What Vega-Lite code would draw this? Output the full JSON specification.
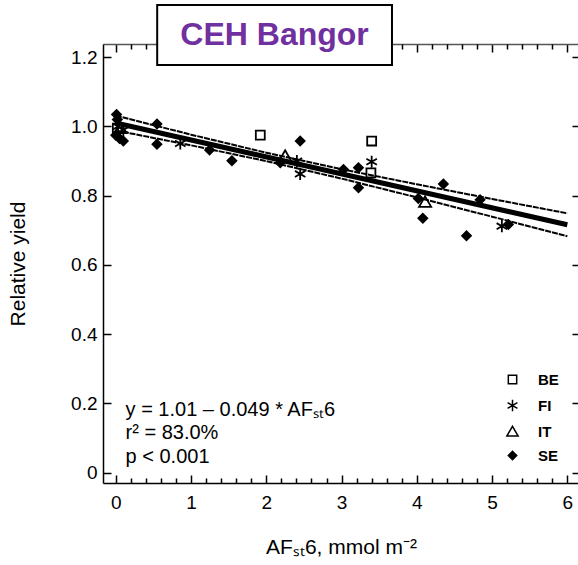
{
  "$schema": "https://vega.github.io/schema/vega-lite/v6.json",
  "width": 476,
  "height": 439,
  "autosize": {"type": "none"},
  "padding": {"left": 103, "top": 44, "right": 0, "bottom": 82},
  "background": "white",
  "config": {
    "view": {"stroke": null},
    "font": "Liberation Sans",
    "axis": {
      "grid": false,
      "domain": false,
      "tickColor": "black",
      "labelColor": "black",
      "titleColor": "black",
      "labelFont": "Liberation Sans",
      "titleFont": "Liberation Sans",
      "titleFontWeight": "normal"
    },
    "legend": {
      "orient": "none", "legendX": 402, "legendY": 328, "title": null,
      "labelFontSize": 15, "labelFontWeight": "bold", "labelFont": "Liberation Sans", "labelColor": "black",
      "symbolStrokeWidth": 1.5, "symbolSize": 70,
      "labelOffset": 18, "rowPadding": 8
    }
  },
  "datasets": {
    "points": [
      {"country": "BE", "x": 0.02, "y": 0.995},
      {"country": "BE", "x": 1.92, "y": 0.975},
      {"country": "BE", "x": 3.40, "y": 0.958},
      {"country": "BE", "x": 3.39, "y": 0.866},
      {"country": "FI", "x": 0.03, "y": 1.0},
      {"country": "FI", "x": 0.1, "y": 0.99},
      {"country": "FI", "x": 0.857, "y": 0.951},
      {"country": "FI", "x": 2.406, "y": 0.9},
      {"country": "FI", "x": 2.45, "y": 0.863},
      {"country": "FI", "x": 3.40, "y": 0.898},
      {"country": "FI", "x": 5.13, "y": 0.712},
      {"country": "IT", "x": 0.06, "y": 0.995},
      {"country": "IT", "x": 2.25, "y": 0.915},
      {"country": "IT", "x": 4.11, "y": 0.782},
      {"country": "SE", "x": 0.01, "y": 1.035},
      {"country": "SE", "x": 0.02, "y": 1.02},
      {"country": "SE", "x": 0.0, "y": 0.975},
      {"country": "SE", "x": 0.05, "y": 0.965},
      {"country": "SE", "x": 0.1, "y": 0.958},
      {"country": "SE", "x": 0.547, "y": 1.007},
      {"country": "SE", "x": 0.547, "y": 0.949},
      {"country": "SE", "x": 1.246, "y": 0.932},
      {"country": "SE", "x": 1.543, "y": 0.901},
      {"country": "SE", "x": 2.185, "y": 0.895},
      {"country": "SE", "x": 2.45, "y": 0.958},
      {"country": "SE", "x": 3.026, "y": 0.876},
      {"country": "SE", "x": 3.225, "y": 0.881},
      {"country": "SE", "x": 3.225, "y": 0.823},
      {"country": "SE", "x": 4.02, "y": 0.792},
      {"country": "SE", "x": 4.08, "y": 0.735},
      {"country": "SE", "x": 4.353, "y": 0.834},
      {"country": "SE", "x": 4.66, "y": 0.684},
      {"country": "SE", "x": 4.84, "y": 0.788},
      {"country": "SE", "x": 5.216, "y": 0.717}
    ],
    "bands": [
      {"band": "upper", "x": 0, "y": 1.0315},
      {"band": "upper", "x": 1, "y": 0.9764},
      {"band": "upper", "x": 2, "y": 0.9241},
      {"band": "upper", "x": 3, "y": 0.8766},
      {"band": "upper", "x": 4, "y": 0.8329},
      {"band": "upper", "x": 5, "y": 0.7906},
      {"band": "upper", "x": 6, "y": 0.749},
      {"band": "lower", "x": 0, "y": 0.9885},
      {"band": "lower", "x": 1, "y": 0.9456},
      {"band": "lower", "x": 2, "y": 0.8999},
      {"band": "lower", "x": 3, "y": 0.8494},
      {"band": "lower", "x": 4, "y": 0.7951},
      {"band": "lower", "x": 5, "y": 0.7394},
      {"band": "lower", "x": 6, "y": 0.683}
    ],
    "fit": [
      {"x": 0, "y": 1.01},
      {"x": 6, "y": 0.716}
    ]
  },
  "layer": [
    {
      "data": {"name": "bands"},
      "mark": {"type": "line", "stroke": "black", "strokeWidth": 2, "strokeDash": [6, 1]},
      "encoding": {
        "x": {
          "field": "x", "type": "quantitative",
          "scale": {"domain": [-0.17, 6.155], "nice": false, "zero": false},
          "axis": {
            "orient": "bottom", "values": [0, 1, 2, 3, 4, 5, 6], "format": "d",
            "tickSize": -8, "tickWidth": 1.5, "labelPadding": 18, "labelFontSize": 19,
            "domain": true, "domainColor": "black", "domainWidth": 1.5,
            "title": "AFₛₜ6, mmol m⁻²", "titleFontSize": 21, "titlePadding": 24
          }
        },
        "y": {
          "field": "y", "type": "quantitative",
          "scale": {"domain": [-0.0303, 1.2384], "nice": false, "zero": false},
          "axis": {
            "orient": "left", "values": [0, 0.2, 0.4, 0.6, 0.8, 1, 1.2],
            "labelExpr": "datum.value == 0 ? '0' : format(datum.value, '.1f')",
            "tickSize": -8, "tickWidth": 1.5, "labelPadding": 14, "labelFontSize": 19,
            "domain": true, "domainColor": "black", "domainWidth": 1.5,
            "title": "Relative yield", "titleFontSize": 21, "titlePadding": 42
          }
        },
        "detail": {"field": "band", "type": "nominal"}
      }
    },
    {
      "data": {"name": "fit"},
      "mark": {"type": "line", "stroke": "black", "strokeWidth": 5},
      "encoding": {
        "x": {
          "field": "x", "type": "quantitative",
          "scale": {"domain": [-0.17, 6.155], "nice": false, "zero": false},
          "axis": {
            "orient": "top", "values": [0, 1, 2, 3, 4, 5, 6], "tickSize": -8, "tickWidth": 1.5,
            "labels": false, "title": null,
            "domain": true, "domainColor": "#555555", "domainWidth": 1.5
          }
        },
        "y": {
          "field": "y", "type": "quantitative",
          "scale": {"domain": [-0.0303, 1.2384], "nice": false, "zero": false},
          "axis": {
            "orient": "right", "values": [0, 0.2, 0.4, 0.6, 0.8, 1, 1.2], "tickSize": -7, "tickWidth": 1.5,
            "labels": false, "title": null,
            "domain": true, "domainColor": "black", "domainWidth": 1.5
          }
        }
      }
    },
    {
      "data": {"name": "points"},
      "mark": {"type": "point", "filled": true, "strokeWidth": 1.8, "opacity": 1, "size": 80},
      "encoding": {
        "x": {
          "field": "x", "type": "quantitative",
          "scale": {"domain": [-0.17, 6.155], "nice": false, "zero": false},
          "axis": {
            "orient": "bottom",
            "values": [0.2, 0.4, 0.6, 0.8, 1.2, 1.4, 1.6, 1.8, 2.2, 2.4, 2.6, 2.8, 3.2, 3.4, 3.6, 3.8, 4.2, 4.4, 4.6, 4.8, 5.2, 5.4, 5.6, 5.8],
            "tickSize": -5, "tickWidth": 1.5, "labels": false, "title": null, "domain": false
          }
        },
        "y": {
          "field": "y", "type": "quantitative",
          "scale": {"domain": [-0.0303, 1.2384], "nice": false, "zero": false},
          "axis": null
        },
        "shape": {
          "field": "country", "type": "nominal",
          "scale": {
            "domain": ["BE", "FI", "IT", "SE"],
            "range": ["square", "M0,-1.35V1.35M-1.17,-0.675L1.17,0.675M-1.17,0.675L1.17,-0.675", "M0,-1.25L1.35,1.1L-1.35,1.1Z", "diamond"]
          }
        },
        "fill": {
          "field": "country", "type": "nominal",
          "scale": {"domain": ["BE", "FI", "IT", "SE"], "range": ["transparent", "transparent", "transparent", "black"]}
        },
        "stroke": {
          "field": "country", "type": "nominal",
          "scale": {"domain": ["BE", "FI", "IT", "SE"], "range": ["black", "black", "black", "black"]}
        }
      }
    },
    {
      "data": {"values": [{}]},
      "mark": {"type": "rect", "fill": "white", "stroke": "black", "strokeWidth": 2},
      "encoding": {
        "x": {
          "datum": 0.55, "type": "quantitative",
          "scale": {"domain": [-0.17, 6.155], "nice": false, "zero": false},
          "axis": {
            "orient": "top",
            "values": [0.2, 0.4, 0.6, 0.8, 1.2, 1.4, 1.6, 1.8, 2.2, 2.4, 2.6, 2.8, 3.2, 3.4, 3.6, 3.8, 4.2, 4.4, 4.6, 4.8, 5.2, 5.4, 5.6, 5.8],
            "tickSize": -5, "tickWidth": 1.5, "labels": false, "title": null, "domain": false
          }
        },
        "x2": {"datum": 3.67},
        "y": {
          "datum": 1.351, "type": "quantitative",
          "scale": {"domain": [-0.0303, 1.2384], "nice": false, "zero": false},
          "axis": null
        },
        "y2": {"datum": 1.178}
      }
    },
    {
      "data": {"values": [{}]},
      "mark": {"type": "text", "text": "CEH Bangor", "font": "Liberation Sans", "fontSize": 32, "fontWeight": "bold", "color": "#7030A0", "align": "center", "baseline": "middle"},
      "encoding": {
        "x": {"datum": 2.11, "type": "quantitative", "scale": {"domain": [-0.17, 6.155], "nice": false, "zero": false}, "axis": null},
        "y": {"datum": 1.264, "type": "quantitative", "scale": {"domain": [-0.0303, 1.2384], "nice": false, "zero": false}, "axis": null}
      }
    },
    {
      "data": {"values": [{}]},
      "mark": {"type": "text", "text": ["y = 1.01 – 0.049 * AFₛₜ6", "r² = 83.0%", "p < 0.001"], "font": "Liberation Sans", "fontSize": 20, "color": "black", "align": "left", "baseline": "top", "lineHeight": 23.5},
      "encoding": {
        "x": {"datum": 0.13, "type": "quantitative", "scale": {"domain": [-0.17, 6.155], "nice": false, "zero": false}, "axis": null},
        "y": {"datum": 0.2096, "type": "quantitative", "scale": {"domain": [-0.0303, 1.2384], "nice": false, "zero": false}, "axis": null}
      }
    }
  ],
  "resolve": {"axis": {"x": "independent", "y": "independent"}}
}
